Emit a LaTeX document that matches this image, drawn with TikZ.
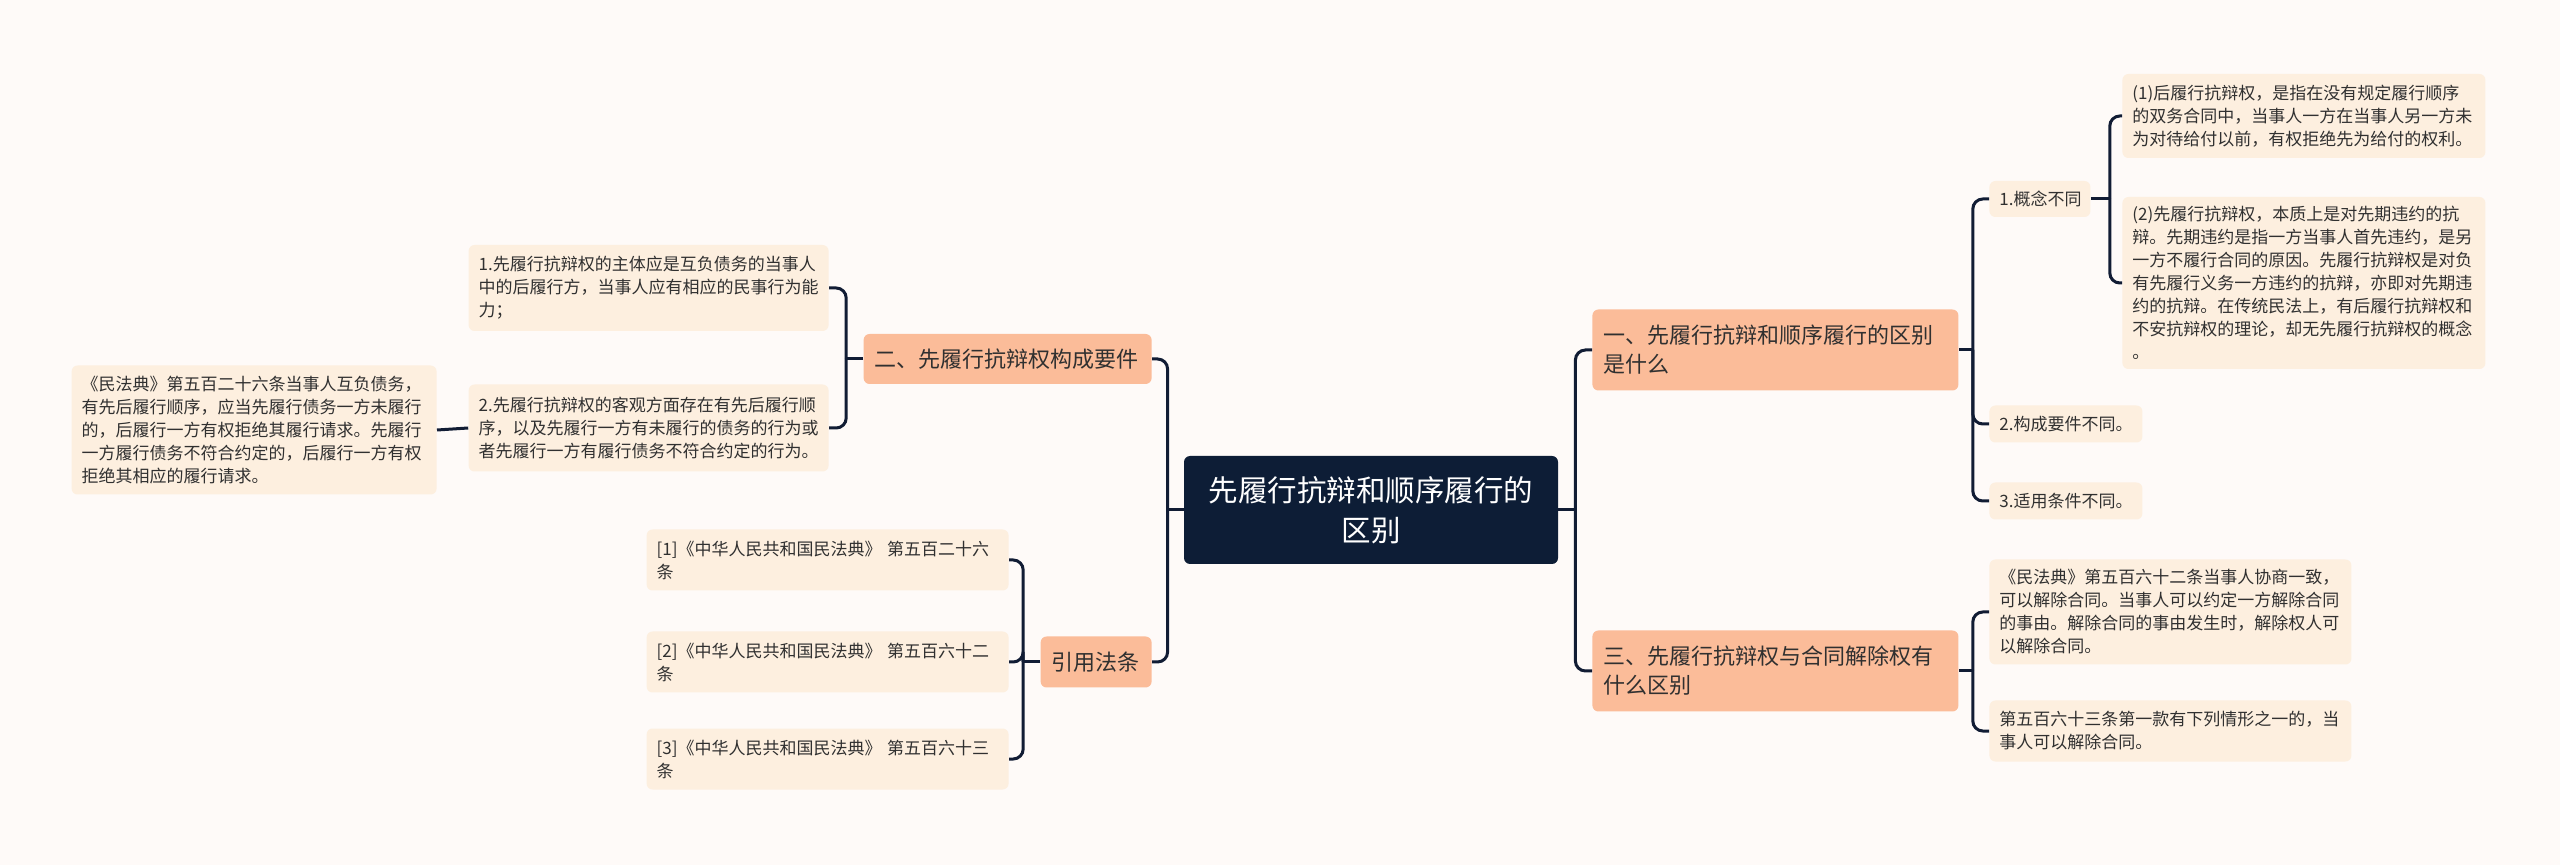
\documentclass[tikz,border=0pt]{standalone}
\usepackage{fontspec}
\setmainfont{Noto Sans CJK SC}
\usetikzlibrary{positioning, calc}
\definecolor{rootnavy}{RGB}{13, 29, 54}
\definecolor{mainpeach}{RGB}{251, 188, 153}
\definecolor{leafcream}{RGB}{253, 239, 223}
\definecolor{linenavy}{RGB}{17, 28, 52}
\definecolor{paper}{RGB}{254, 250, 248}
\definecolor{inkgray}{RGB}{48, 48, 48}

\begin{document}
\begin{tikzpicture}[x=0.5pt, y=-0.5pt,
  rootbox/.style={fill=rootnavy, text=white, rounded corners=3pt, align=center,
                  inner sep=0pt, minimum width=187pt, minimum height=54pt,
                  font=\fontsize{14.75}{20}\selectfont},
  mainbox/.style={fill=mainpeach, text=inkgray, rounded corners=3pt, align=left,
                  inner xsep=5.5pt, inner ysep=0pt, font=\fontsize{11}{14.5}\selectfont},
  leafbox/.style={fill=leafcream, text=inkgray, rounded corners=3pt, align=left,
                  inner xsep=5pt, inner ysep=0pt, font=\fontsize{8.5}{11.5}\selectfont},
  link/.style={draw=linenavy, line width=1.5pt, rounded corners=5pt}
]
  \fill[paper] (0,0) rectangle (2560,865);
  \useasboundingbox (0,0) rectangle (2560,865);

  % centre
  \node[rootbox] (root) at (1371,510) {先履行抗辩和顺序履行的\\区别};

  % right side
  \node[mainbox, text width=172pt, minimum height=40.5pt, anchor=west] (diff) at (1592,350)
    {一、先履行抗辩和顺序履行的区别\\是什么};
  \node[mainbox, text width=172pt, minimum height=40.5pt, anchor=west] (cancel) at (1592,671)
    {三、先履行抗辩权与合同解除权有\\什么区别};

  \node[leafbox, text width=40.5pt, minimum height=18pt, anchor=west] (concept) at (1989,199) {1.概念不同};
  \node[leafbox, text width=66.5pt, minimum height=18.5pt, anchor=west] (elements) at (1989,424) {2.构成要件不同。};
  \node[leafbox, text width=66.5pt, minimum height=18.5pt, anchor=west] (scope) at (1989,501) {3.适用条件不同。};

  \node[leafbox, text width=171.5pt, minimum height=42pt, anchor=west] (later) at (2122,116)
    {(1)后履行抗辩权，是指在没有规定履行顺序\\的双务合同中，当事人一方在当事人另一方未\\为对待给付以前，有权拒绝先为给付的权利。};
  \node[leafbox, text width=171.5pt, minimum height=86pt, anchor=west] (earlier) at (2122,283)
    {(2)先履行抗辩权，本质上是对先期违约的抗\\辩。先期违约是指一方当事人首先违约，是另\\一方不履行合同的原因。先履行抗辩权是对负\\有先履行义务一方违约的抗辩，亦即对先期违\\约的抗辩。在传统民法上，有后履行抗辩权和\\不安抗辩权的理论，却无先履行抗辩权的概念\\。};

  \node[leafbox, text width=171pt, minimum height=52.5pt, anchor=west] (art562) at (1989,612)
    {《民法典》第五百六十二条当事人协商一致，\\可以解除合同。当事人可以约定一方解除合同\\的事由。解除合同的事由发生时，解除权人可\\以解除合同。};
  \node[leafbox, text width=171pt, minimum height=30.5pt, anchor=west] (art563) at (1989,731)
    {第五百六十三条第一款有下列情形之一的，当\\事人可以解除合同。};

  % left side
  \node[mainbox, text width=133pt, minimum height=25pt, anchor=east] (parts) at (1152,359)
    {二、先履行抗辩权构成要件};
  \node[mainbox, text width=44.5pt, minimum height=25.5pt, anchor=east] (laws) at (1152,662)
    {引用法条};

  \node[leafbox, text width=170pt, minimum height=43pt, anchor=east] (subject) at (829,288)
    {1.先履行抗辩权的主体应是互负债务的当事人\\中的后履行方，当事人应有相应的民事行为能\\力；};
  \node[leafbox, text width=170pt, minimum height=43.5pt, anchor=east] (object) at (829,428)
    {2.先履行抗辩权的客观方面存在有先后履行顺\\序，以及先履行一方有未履行的债务的行为或\\者先履行一方有履行债务不符合约定的行为。};
  \node[leafbox, text width=172.5pt, minimum height=64.5pt, anchor=east] (art526) at (437,430)
    {《民法典》第五百二十六条当事人互负债务，\\有先后履行顺序，应当先履行债务一方未履行\\的，后履行一方有权拒绝其履行请求。先履行\\一方履行债务不符合约定的，后履行一方有权\\拒绝其相应的履行请求。};

  \node[leafbox, text width=171pt, minimum height=30.5pt, anchor=east] (ref1) at (1009,560)
    {[1]《中华人民共和国民法典》~第五百二十六\\条};
  \node[leafbox, text width=171pt, minimum height=30.5pt, anchor=east] (ref2) at (1009,662)
    {[2]《中华人民共和国民法典》~第五百六十二\\条};
  \node[leafbox, text width=171pt, minimum height=30.5pt, anchor=east] (ref3) at (1009,759)
    {[3]《中华人民共和国民法典》~第五百六十三\\条};

  % connectors
  \draw[link] (root.east) -- ++(8.5pt,0) coordinate (rs);
  \draw[link] (rs) |- (diff.west);
  \draw[link] (rs) |- (cancel.west);

  \draw[link] (diff.east) -- ++(7pt,0) coordinate (ds);
  \draw[link] (ds) |- (concept.west);
  \draw[link] (ds) |- (elements.west);
  \draw[link] (ds) |- (scope.west);

  \draw[link] (concept.east) -- ++(9.5pt,0) coordinate (cs);
  \draw[link] (cs) |- (later.west);
  \draw[link] (cs) |- (earlier.west);

  \draw[link] (cancel.east) -- ++(7pt,0) coordinate (ks);
  \draw[link] (ks) |- (art562.west);
  \draw[link] (ks) |- (art563.west);

  \draw[link] (root.west) -- ++(-8pt,0) coordinate (ls);
  \draw[link] (ls) |- (parts.east);
  \draw[link] (ls) |- (laws.east);

  \draw[link] (parts.west) -- ++(-8.5pt,0) coordinate (ps);
  \draw[link] (ps) |- (subject.east);
  \draw[link] (ps) |- (object.east);
  \draw[link] (object.west) -- (art526.east);

  \draw[link] (laws.west) -- ++(-8.5pt,0) coordinate (fs);
  \draw[link] (fs) |- (ref1.east);
  \draw[link] (fs) |- (ref2.east);
  \draw[link] (fs) |- (ref3.east);
\end{tikzpicture}
\end{document}
